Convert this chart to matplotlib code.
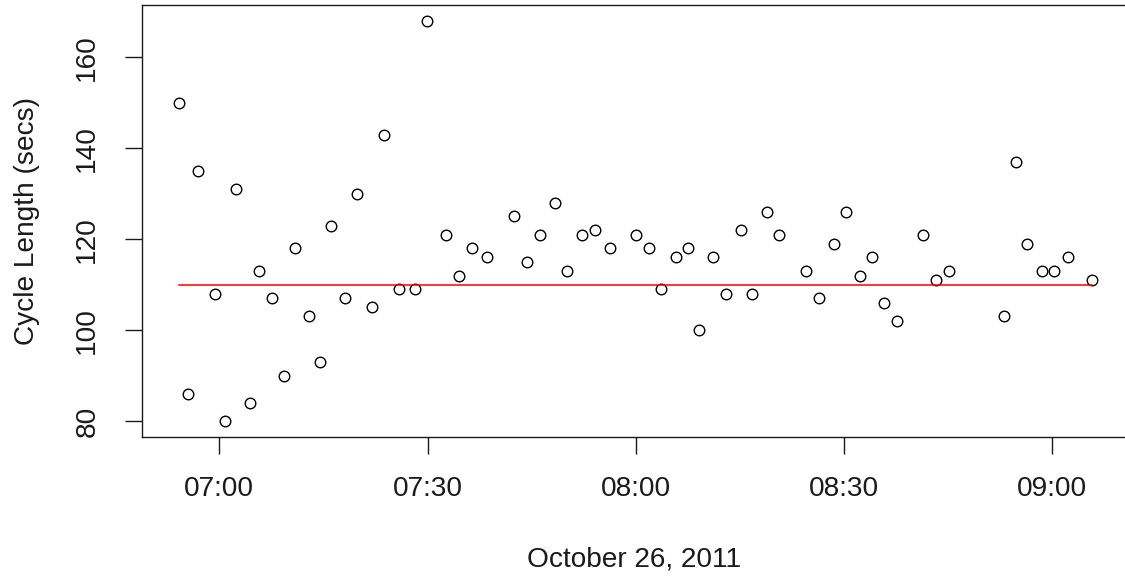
import matplotlib
matplotlib.use("Agg")
import matplotlib.pyplot as plt
import matplotlib.dates as mdates
import pandas as pd

# signal cycle observations, morning of 26 Oct 2011
times = ["06:54:08", "06:55:30", "06:57:00", "06:59:20", "07:00:52", "07:02:24",
         "07:04:28", "07:05:46", "07:07:33", "07:09:20", "07:10:52", "07:12:59",
         "07:14:30", "07:16:04", "07:18:10", "07:19:54", "07:22:00", "07:23:48",
         "07:25:52", "07:28:10", "07:29:54", "07:32:36", "07:34:30", "07:36:24",
         "07:38:30", "07:42:24", "07:44:24", "07:46:12", "07:48:18", "07:50:03",
         "07:52:12", "07:54:12", "07:56:15", "08:00:06", "08:01:54", "08:03:42",
         "08:05:48", "08:07:30", "08:09:06", "08:11:12", "08:13:00", "08:15:06",
         "08:16:48", "08:18:54", "08:20:42", "08:24:30", "08:26:24", "08:28:30",
         "08:30:18", "08:32:18", "08:34:06", "08:35:42", "08:37:42", "08:41:21",
         "08:43:12", "08:45:12", "08:53:00", "08:54:48", "08:56:18", "08:58:36",
         "09:00:12", "09:02:18", "09:05:48"]
cycle_secs = [150, 86, 135, 108, 80, 131, 84, 113, 107, 90, 118, 103,
              93, 123, 107, 130, 105, 143, 109, 109, 168, 121, 112, 118,
              116, 125, 115, 121, 128, 113, 121, 122, 118, 121, 118, 109,
              116, 118, 100, 116, 108, 122, 108, 126, 121, 113, 107, 119,
              126, 112, 116, 106, 102, 121, 111, 113, 103, 137, 119, 113,
              113, 116, 111]
plan_cycle = 110
day = "2011-10-26"
tick_times = ["07:00", "07:30", "08:00", "08:30", "09:00"]

t = pd.to_datetime([day + " " + s for s in times])
ticks = pd.to_datetime([day + " " + s for s in tick_times])

plt.rcParams["font.family"] = ["Liberation Sans", "DejaVu Sans"]
fs = 20.2
ink = "#1a1a1a"

fig = plt.figure(figsize=(11.25, 5.79), dpi=100)
ax = fig.add_axes([142 / 1125, 142 / 579, 987 / 1125, 432 / 579])

ax.plot(t, cycle_secs, "o", ms=7.6, mfc="none", mec="black", mew=1.0)
ax.plot([t[0], t[-1]], [plan_cycle, plan_cycle], color="red", lw=1.1)
ax.margins(x=0.04, y=0.04)

ax.set_xticks(ticks)
ax.xaxis.set_major_formatter(mdates.DateFormatter("%H:%M"))
ax.set_yticks([80, 100, 120, 140, 160])
ax.tick_params(axis="both", length=12, width=1.0, color=ink,
               labelsize=fs, labelcolor=ink)
ax.tick_params(axis="x", pad=16)
ax.tick_params(axis="y", pad=18)
for lbl in ax.get_yticklabels():
    lbl.set_rotation(90)
    lbl.set_va("center")

for sp in ax.spines.values():
    sp.set_linewidth(1.0)
    sp.set_color(ink)

ax.set_xlabel("October 26, 2011", fontsize=fs, color=ink)
ax.set_ylabel("Cycle Length (secs)", fontsize=fs, color=ink)
ax.xaxis.set_label_coords((634 - 142) / 987, (437 - 546) / 432)
ax.yaxis.set_label_coords((40 - 142) / 987, 0.5)

fig.savefig("out.png", dpi=100)
